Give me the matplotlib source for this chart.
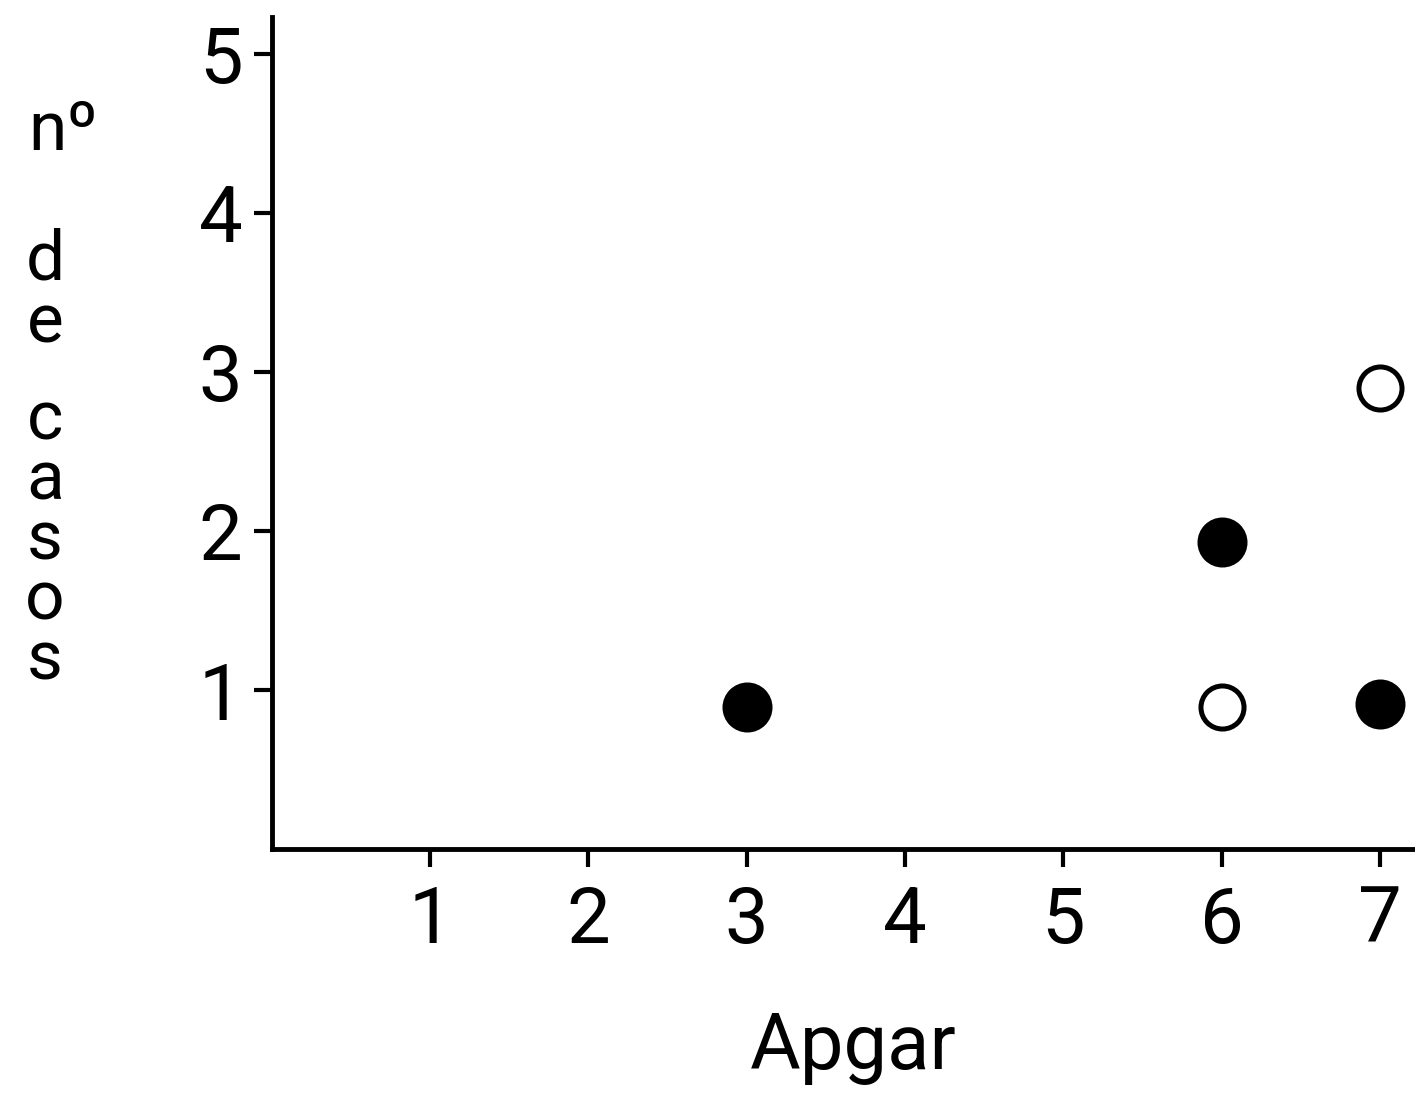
import numpy as np
import matplotlib.pyplot as plt

plt.rcParams['font.family'] = ['Roboto', 'DejaVu Sans']

# Apgar score vs number of cases
filled_x = [3, 6, 7]
filled_y = [0.89, 1.93, 0.91]
open_x = [6, 7]
open_y = [0.89, 2.90]

xticks = [1, 2, 3, 4, 5, 6, 7]
yticks = [1, 2, 3, 4, 5]
ylabel_words = ["nº", "de", "casos"]

W, H = 1415, 1100
fig = plt.figure(figsize=(W / 100, H / 100), dpi=100)
ax = fig.add_axes([271.7 / W, 1 - 849 / H, 1 - 271.7 / W, (849 - 17) / H])

ax.plot(filled_x, filled_y, 'o', ms=34, mfc='black', mec='black', mew=2, clip_on=False)
ax.plot(open_x, open_y, 'o', ms=31, mfc='white', mec='black', mew=3.6, clip_on=False)

ax.set_xlim(0, (W - 271.7) / 158.3)
ax.set_ylim(0, (849 - 17) / 159)
ax.set_xticks(xticks)
ax.set_yticks(yticks)
ax.tick_params(axis='both', direction='out', length=13, width=3, labelsize=56, colors='black')
ax.tick_params(axis='x', pad=12)
ax.tick_params(axis='y', pad=8)

for side in ['top', 'right']:
    ax.spines[side].set_visible(False)
for side in ['left', 'bottom']:
    ax.spines[side].set_linewidth(3.5)

ax.set_xlabel("Apgar", fontsize=56)
ax.xaxis.set_label_coords((853 - 271.7) / (W - 271.7), -(1010 - 849) / 832)
ax.xaxis.label.set_va('top')

# y label: letters stacked upright, one column per word block
fig.text(28 / W, 1 - 150 / H, ylabel_words[0], fontsize=50, ha='left', va='baseline')
fig.text(45 / W, 1 - 228 / H, "\n".join(ylabel_words[1]), fontsize=50,
         ha='center', va='top', linespacing=0.93)
fig.text(45 / W, 1 - 388 / H, "\n".join(ylabel_words[2]), fontsize=50,
         ha='center', va='top', linespacing=0.88)

fig.savefig("out.png", dpi=100, facecolor='white')
